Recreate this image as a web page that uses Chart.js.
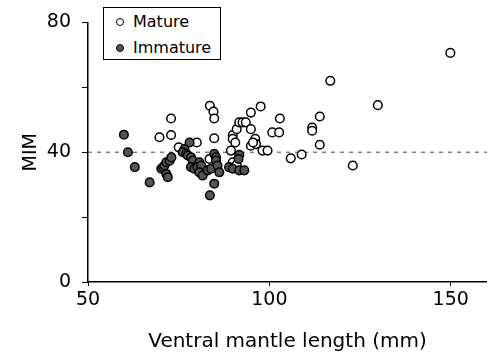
<!DOCTYPE html>
<html>
<head>
<meta charset="utf-8">
<script src="https://cdn.jsdelivr.net/npm/chart.js@4.4.0/dist/chart.umd.min.js"></script>
<style>
  body { margin: 0; background: #fff; }
  #wrap { position: relative; width: 487px; height: 358px; }
  #legend {
    position: absolute; left: 103px; top: 7px; width: 116px; height: 51px;
    border: 1.5px solid #000; background: #fff;
    font-family: "DejaVu Sans", sans-serif; font-size: 16px; color: #000;
  }
  #legend div { position: absolute; left: 29px; line-height: 16px; }
  #legend span {
    position: absolute; left: -17px; top: 4px; width: 6px; height: 6px;
    border: 1.5px solid #000; border-radius: 50%;
  }
</style>
</head>
<body>
<div id="wrap">
  <canvas id="chart" width="487" height="358"></canvas>
  <div id="legend">
    <div style="top:6px"><span style="background:#fff"></span>Mature</div>
    <div style="top:32px"><span style="background:#555"></span>Immature</div>
  </div>
</div>
<script>
// Mature squid (open circles)
const matureX = [72.9, 69.7, 72.9, 75.0, 80.0, 83.6, 84.6, 84.8, 84.8, 83.5, 89.4, 89.9, 89.9, 89.9, 90.6,
  91.0, 91.7, 92.6, 93.5, 94.9, 94.9, 94.9, 96.1, 96.3, 95.5, 97.6, 98.1, 99.5, 100.8, 102.7,
  102.9, 105.9, 108.9, 111.8, 111.8, 113.9, 113.9, 116.8, 123.0, 129.9, 149.9, 91.0];
const matureY = [50.4, 44.6, 45.3, 41.5, 43.0, 54.3, 52.5, 50.4, 44.3, 37.9, 40.5, 36.9, 45.3, 44.1, 43.0,
  47.1, 49.2, 49.2, 49.2, 52.2, 47.1, 42.0, 44.1, 42.5, 43.0, 54.1, 40.5, 40.5, 46.1, 46.1,
  50.4, 38.1, 39.3, 47.6, 46.6, 51.0, 42.3, 62.0, 35.9, 54.5, 70.6, 36.2];

// Immature squid (filled circles)
const immatureX = [59.9, 61.0, 62.9, 67.0, 70.2, 70.7, 71.1, 71.6, 72.5, 73.0, 71.6, 72.0, 76.6, 76.1,
  77.1, 77.5, 78.4, 78.0, 78.9, 80.7, 78.4, 79.3, 80.2, 81.2, 80.7, 81.6, 83.0, 83.9, 84.8,
  85.3, 85.3, 85.7, 86.2, 84.8, 83.6, 88.9, 89.9, 91.7, 93.1, 91.7, 91.5];
const immatureY = [45.4, 40.0, 35.4, 30.7, 34.9, 35.4, 35.9, 36.9, 37.4, 38.4, 33.3, 32.3, 41.0, 40.0,
  39.5, 39.0, 38.4, 43.0, 37.4, 36.9, 35.4, 34.9, 35.4, 35.9, 33.8, 32.8, 34.4, 34.9, 39.5,
  38.4, 37.4, 35.9, 33.8, 30.3, 26.7, 35.4, 34.9, 34.4, 34.4, 39.2, 37.9];

// reference line at MIM = 40
const refX = [50, 160];
const refY = [40, 40];

const xTicks = [50, 100, 150];
const yTicks = [0, 20, 40, 60, 80];
const yLabels = [0, 40, 80];

function toPoints(xs, ys) {
    return xs.map((x, i) => ({ x: x, y: ys[i] }));
}

const ctx = document.getElementById('chart').getContext('2d');
new Chart(ctx, {
    type: 'scatter',
    data: {
        datasets: [
            {
                label: 'Immature',
                data: toPoints(immatureX, immatureY),
                pointRadius: 4.3,
                pointBorderWidth: 1.5,
                pointBackgroundColor: '#555',
                pointBorderColor: '#000',
                order: 0
            },
            {
                label: 'Mature',
                data: toPoints(matureX, matureY),
                pointRadius: 4.3,
                pointBorderWidth: 1.5,
                pointBackgroundColor: '#fff',
                pointBorderColor: '#000',
                order: 1
            },
            {
                label: 'ref',
                type: 'line',
                data: toPoints(refX, refY),
                borderColor: '#444',
                borderWidth: 1,
                borderDash: [4, 5],
                pointRadius: 0,
                order: 2
            }
        ]
    },
    options: {
        responsive: false,
        animation: false,
        layout: { autoPadding: false, padding: { top: 21, right: 0, bottom: 0, left: 0 } },
        plugins: { legend: { display: false }, tooltip: { enabled: false } },
        scales: {
            x: {
                type: 'linear',
                min: 50,
                max: 160,
                afterBuildTicks: s => { s.ticks = xTicks.map(v => ({ value: v })); },
                afterFit: s => { s.height = 76; },
                border: { display: true, color: '#000', width: 1.5 },
                grid: { drawOnChartArea: false, drawTicks: true, tickLength: 4, color: '#000' },
                ticks: {
                    color: '#000', padding: 3, maxRotation: 0,
                    font: { family: 'DejaVu Sans', size: 19 }
                },
                title: {
                    display: true, text: 'Ventral mantle length (mm)', color: '#000',
                    font: { family: 'DejaVu Sans', size: 20 },
                    padding: { top: 0, bottom: 4 }
                }
            },
            y: {
                type: 'linear',
                min: 0,
                max: 80,
                afterBuildTicks: s => { s.ticks = yTicks.map(v => ({ value: v })); },
                afterFit: s => { s.width = 88; },
                border: { display: true, color: '#000', width: 1.5 },
                grid: { drawOnChartArea: false, drawTicks: true, tickLength: 6, color: '#000' },
                ticks: {
                    color: '#000', padding: 11,
                    font: { family: 'DejaVu Sans', size: 19 },
                    callback: v => yLabels.includes(v) ? v : ''
                },
                title: {
                    display: true, text: 'MIM', color: '#000',
                    font: { family: 'DejaVu Sans', size: 19 },
                    padding: { top: 20, bottom: 0 }
                }
            }
        }
    }
});
</script>
</body>
</html>
